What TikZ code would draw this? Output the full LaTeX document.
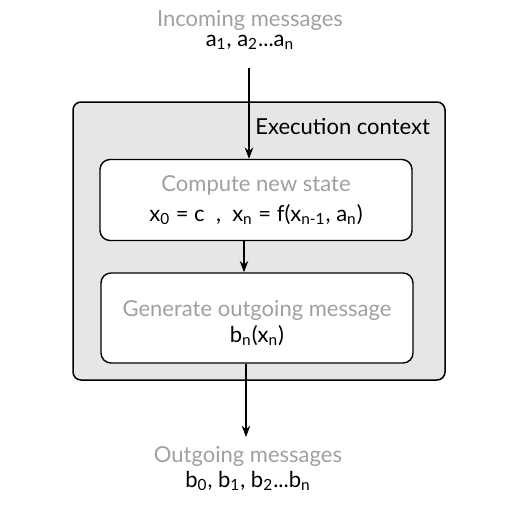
\documentclass[tikz,border=0pt]{standalone}
\usepackage{fontspec}
\setmainfont{Lato}
\usetikzlibrary{positioning,arrows.meta}
\definecolor{labelgray}{HTML}{A0A0A0}
\definecolor{ctxfill}{HTML}{E6E6E6}
\newcommand{\idx}[1]{\textsubscript{#1}}

\begin{document}
\begin{tikzpicture}[x=0.5pt,y=-0.5pt,>=Stealth,node distance=0pt,every node/.style={font=\fontsize{11}{13}\selectfont}]
  \useasboundingbox (0,0) rectangle (514,510);
  \tikzset{
    title/.style={text=labelgray,inner sep=1pt},
    stagebox/.style={draw,fill=white,rounded corners=5pt,line width=0.7pt,minimum width=156pt,align=center},
  }
  \node[draw,fill=ctxfill,rounded corners=4pt,line width=0.75pt,minimum width=186pt,minimum height=139pt] (ctx) at (259,241) {};
  \node[anchor=north east] (ctxlabel) at (437,111) {Execution context};

  \node[title] (intitle) at (250,20) {Incoming messages};
  \node[below=of intitle,inner sep=1pt] (inmsg) {a\idx{1}, a\idx{2}...a\idx{n}};

  \node[stagebox,minimum height=40.5pt] (compute) at (256,200)
    {\textcolor{labelgray}{Compute new state}\\[2pt] x\idx{0} = c\ \ ,\ \ x\idx{n} = f(x\idx{n-1}, a\idx{n})};
  \node[stagebox,minimum height=45pt] (generate) at (257,318)
    {\rule{0pt}{13pt}\textcolor{labelgray}{Generate outgoing message}\\[0pt] b\idx{n}(x\idx{n})};

  \node[title] (outtitle) at (248,456) {Outgoing messages};
  \node[below=of outtitle,inner sep=1pt] (outmsg) {b\idx{0}, b\idx{1}, b\idx{2}...b\idx{n}};

  \draw[->,line width=0.6pt] (249,68) -- (compute.north -| 249,0);
  \draw[->,line width=0.6pt] (compute.south -| 244,0) -- (generate.north -| 244,0);
  \draw[->,line width=0.6pt] (generate.south -| 246,0) -- (246,437);
\end{tikzpicture}
\end{document}
